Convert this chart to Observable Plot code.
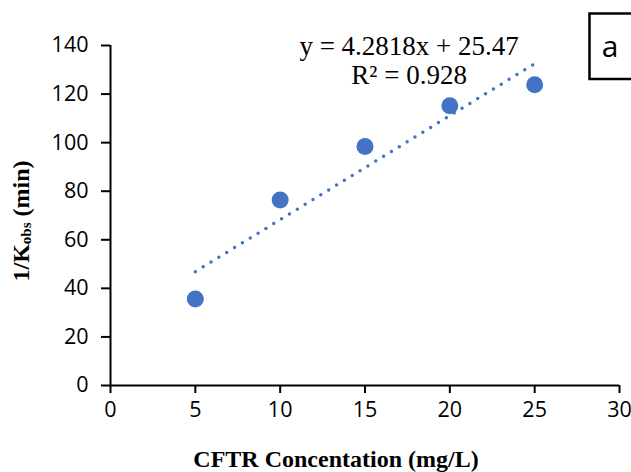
<!DOCTYPE html>
<html>
<head>
<meta charset="utf-8">
<script src="https://cdn.jsdelivr.net/npm/d3@7"></script>
<script src="https://cdn.jsdelivr.net/npm/@observablehq/plot@0.6"></script>
<style>
  html, body { margin: 0; padding: 0; background: #fff; overflow: hidden; }
  #wrap { position: relative; width: 631px; height: 472px; }
</style>
</head>
<body>
<div id="wrap"></div>
<script>
// Data
const concentration = [5, 10, 15, 20, 25];
const invKobs = [35.6, 76.4, 98.4, 115.2, 123.8];
const trendSlope = [4.2818];
const trendIntercept = [25.47];
const trendRange = [5, 25];
const equationLabels = ["y = 4.2818x + 25.47", "R² = 0.928"];
const equationY = [139.6, 127.6];
const xTicks = [0, 5, 10, 15, 20, 25, 30];
const yTicks = [0, 20, 40, 60, 80, 100, 120, 140];
const xTitle = ["CFTR Concentation (mg/L)"];
const panelTag = "a";

const points = concentration.map((x, i) => ({x, y: invKobs[i]}));
const trend = trendRange.map(x => ({x, y: trendSlope[0] * x + trendIntercept[0]}));
const eq = equationLabels.map((t, i) => ({t, y: equationY[i]}));

const blue = "#4472C4";
const tickFont = "'Open Sans', sans-serif";
const serif = "'Liberation Serif', 'Times New Roman', serif";

const chart = Plot.plot({
  width: 631,
  height: 472,
  marginLeft: 110,
  marginRight: 12,
  marginTop: 45,
  marginBottom: 87,
  style: {background: "transparent", overflow: "visible"},
  x: {domain: [0, 30]},
  y: {domain: [0, 140]},
  marks: [
    Plot.axisX({ticks: xTicks, tickSize: 8, tickPadding: 8, strokeWidth: 2, label: null,
      fontSize: 21.5, fontFamily: tickFont, fill: "#000", stroke: "#000"}),
    Plot.axisY({ticks: yTicks, tickSize: 9, tickPadding: 13, strokeWidth: 2, label: null,
      fontSize: 21.5, fontFamily: tickFont, fill: "#000", stroke: "#000"}),
    Plot.ruleY([0], {stroke: "#000", strokeWidth: 2}),
    Plot.ruleX([0], {stroke: "#000", strokeWidth: 2}),
    Plot.line(trend, {x: "x", y: "y", stroke: blue, strokeWidth: 3.5,
      strokeDasharray: "0,9.2", strokeLinecap: "round"}),
    Plot.dot(points, {x: "x", y: "y", r: 8.5, fill: blue, stroke: "none"}),
    Plot.text(eq, {x: () => 17.6, y: "y", text: "t", fontSize: 27, fontFamily: serif,
      fill: "#000", textAnchor: "middle", lineAnchor: "middle"}),
    Plot.text(xTitle, {frameAnchor: "bottom", dy: 74, dx: -29,
      lineAnchor: "middle", fontSize: 24, fontWeight: "bold", fontFamily: serif, fill: "#000"})
  ]
});

document.getElementById("wrap").append(chart);

const svg = d3.select(chart);

// y-axis title with subscript
const t = svg.append("text")
  .attr("transform", "translate(22.5,221) rotate(-90)")
  .attr("text-anchor", "middle")
  .attr("dominant-baseline", "middle")
  .attr("font-family", serif)
  .attr("font-weight", "bold")
  .attr("font-size", 24)
  .attr("fill", "#000");
t.append("tspan").text("1/K");
t.append("tspan").attr("font-size", 15).attr("dy", 5).text("obs");
t.append("tspan").attr("dy", -5).text(" (min)");

// panel tag box
svg.append("rect")
  .attr("x", 589.5).attr("y", 13.5).attr("width", 60).attr("height", 65.5)
  .attr("fill", "none").attr("stroke", "#000").attr("stroke-width", 2.5);
svg.append("text")
  .attr("x", 610).attr("y", 57.3)
  .attr("font-family", tickFont)
  .attr("font-size", 30)
  .attr("fill", "#000")
  .text(panelTag);
</script>
</body>
</html>
